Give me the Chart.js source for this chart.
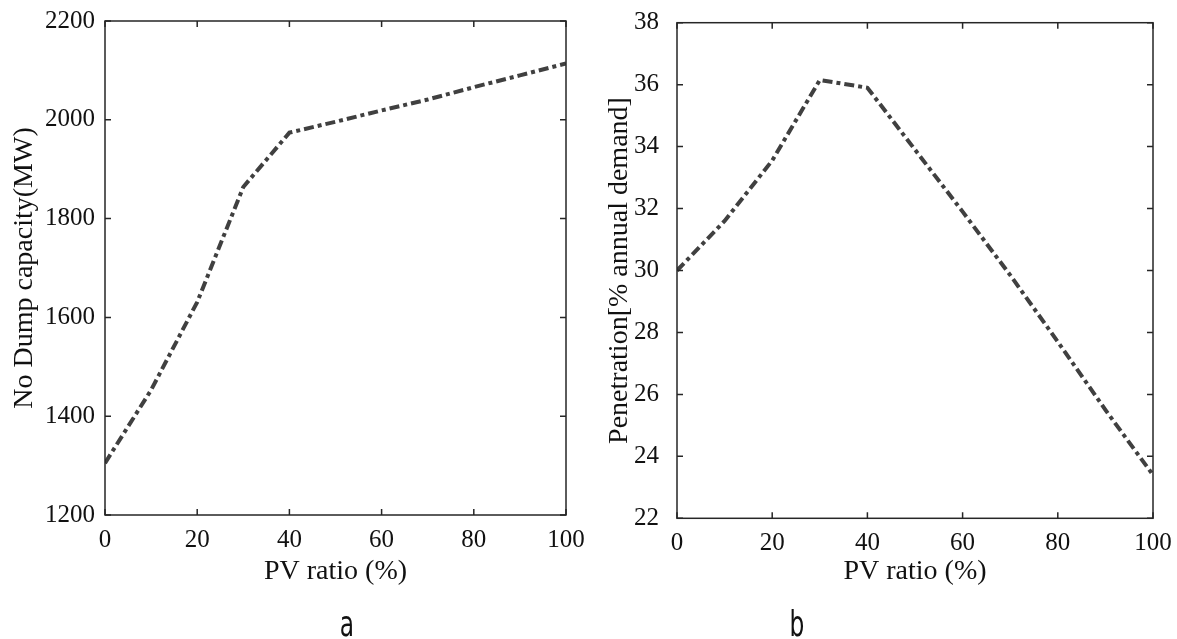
<!DOCTYPE html>
<html>
<head>
<meta charset="utf-8">
<script src="https://cdn.jsdelivr.net/npm/chart.js@4.4.0/dist/chart.umd.min.js"></script>
<style>
  html, body { margin: 0; padding: 0; background: #fff; }
  #wrap { position: relative; width: 1177px; height: 639px; overflow: hidden; }
  canvas { position: absolute; top: 0; }
</style>
</head>
<body>
<div id="wrap">
  <canvas id="chartA" width="590" height="639" style="left:0px"></canvas>
  <canvas id="chartB" width="587" height="639" style="left:590px"></canvas>
</div>
<script>
// --- data ---
const pvRatio = [0, 10, 20, 30, 40, 50, 60, 70, 80, 90, 100];
const noDumpCapacity = [1305, 1453, 1631, 1864, 1974, 1996, 2019, 2041, 2066, 2090, 2114];
const penetration = [30.0, 31.6, 33.55, 36.15, 35.9, 33.9, 31.9, 29.85, 27.7, 25.5, 23.4];

const xRange = [0, 100, 20];          // min, max, step
const capRange = [1200, 2200, 200];
const penRange = [22, 38, 2];

const serif = "'Liberation Serif', 'Times New Roman', serif";
const narrow = "'Liberation Sans Narrow', 'DejaVu Sans Condensed', sans-serif";
const axisColor = '#262626';
const lineColor = '#404040';
const textColor = '#111';

// MATLAB style box with inward ticks on all four sides
const boxPlugin = {
    id: 'box',
    afterDraw(chart) {
        const { ctx, chartArea: a, scales: { x, y } } = chart;
        const len = 6;
        ctx.save();
        ctx.strokeStyle = axisColor;
        ctx.lineWidth = 1.5;
        ctx.strokeRect(a.left, a.top, a.right - a.left, a.bottom - a.top);
        ctx.beginPath();
        x.ticks.forEach(t => {
            const px = x.getPixelForValue(t.value);
            ctx.moveTo(px, a.bottom); ctx.lineTo(px, a.bottom - len);
            ctx.moveTo(px, a.top); ctx.lineTo(px, a.top + len);
        });
        y.ticks.forEach(t => {
            const py = y.getPixelForValue(t.value);
            ctx.moveTo(a.left, py); ctx.lineTo(a.left + len, py);
            ctx.moveTo(a.right, py); ctx.lineTo(a.right - len, py);
        });
        ctx.stroke();
        ctx.restore();
    }
};

// panel letter (a / b) under each plot, squeezed like the original
const panelLabel = {
    id: 'panelLabel',
    afterDraw(chart, args, opts) {
        const ctx = chart.ctx;
        ctx.save();
        ctx.fillStyle = textColor;
        ctx.font = `36px ${narrow}`;
        ctx.textAlign = 'center';
        ctx.textBaseline = 'alphabetic';
        ctx.translate(opts.x, opts.y);
        ctx.scale(0.72, 1);
        ctx.fillText(opts.text, 0, 0);
        ctx.restore();
    }
};

function makeChart(id, cfg) {
    const ctx = document.getElementById(id).getContext('2d');
    return new Chart(ctx, {
        type: 'line',
        data: {
            datasets: [{
                data: pvRatio.map((x, i) => ({ x: x, y: cfg.values[i] })),
                borderColor: lineColor,
                borderWidth: 4,
                borderDash: [10, 4, 4, 4],
                borderCapStyle: 'butt',
                pointRadius: 0,
                tension: 0,
                fill: false
            }]
        },
        options: {
            responsive: false,
            animation: false,
            events: [],
            layout: { padding: { top: cfg.top, right: cfg.right, bottom: 0, left: 0 } },
            scales: {
                x: {
                    type: 'linear',
                    min: xRange[0], max: xRange[1],
                    grid: { display: false, drawTicks: false },
                    border: { display: false },
                    ticks: { stepSize: xRange[2], padding: 10, color: textColor, font: { family: serif, size: 25 } },
                    title: {
                        display: true, text: 'PV ratio (%)', color: textColor,
                        font: { family: serif, size: 28, lineHeight: 1 },
                        padding: { top: 0, bottom: 53 }
                    },
                    afterFit: s => {
                        s.height = cfg.xHeight;
                        s.paddingLeft = 0; s.paddingRight = 0;
                        s.paddingTop = 0; s.paddingBottom = 0;
                    }
                },
                y: {
                    min: cfg.range[0], max: cfg.range[1],
                    grid: { display: false, drawTicks: false },
                    border: { display: false },
                    ticks: {
                        stepSize: cfg.range[2], padding: cfg.tickPad, color: textColor,
                        font: { family: serif, size: 25 },
                        callback: v => String(v)
                    },
                    title: {
                        display: true, text: cfg.yTitle, color: textColor,
                        font: { family: serif, size: 28, lineHeight: 1 },
                        padding: { top: cfg.titlePad, bottom: 0 }
                    },
                    afterFit: s => {
                        s.width = cfg.yWidth;
                        s.paddingLeft = 0; s.paddingRight = 0;
                        s.paddingTop = 0; s.paddingBottom = 0;
                    }
                }
            },
            plugins: {
                legend: { display: false },
                tooltip: { enabled: false },
                panelLabel: { text: cfg.label, x: cfg.labelX, y: 636 }
            }
        },
        plugins: [boxPlugin, panelLabel]
    });
}

makeChart('chartA', {
    values: noDumpCapacity, range: capRange, yTitle: 'No Dump capacity(MW)', label: 'a', labelX: 347,
    top: 21, right: 24, xHeight: 124, yWidth: 105, tickPad: 10, titlePad: 11
});
makeChart('chartB', {
    values: penetration, range: penRange, yTitle: 'Penetration[% annual demand]', label: 'b', labelX: 207,
    top: 22.7, right: 24, xHeight: 120.7, yWidth: 87, tickPad: 18, titlePad: 16
});
</script>
</body>
</html>
